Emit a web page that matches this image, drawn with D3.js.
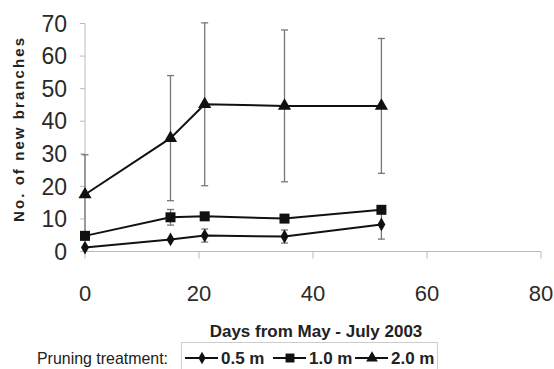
<!DOCTYPE html>
<html>
<head>
<meta charset="utf-8">
<script src="https://cdn.jsdelivr.net/npm/d3@7"></script>
<style>
  body { margin: 0; background: #fff; }
  text { font-family: "Liberation Sans", Arial, sans-serif; fill: #222; }
</style>
</head>
<body>
<script>
// days from May - July 2003
const days = [0, 15, 21, 35, 52]

// mean no. of new branches per pruning treatment
const mean05 = [1.2, 3.7, 4.9, 4.6, 8.3]
const mean10 = [4.8, 10.5, 10.8, 10.1, 12.8]
const mean20 = [17.5, 34.8, 45.2, 44.7, 44.7]

// standard deviations (error bar half-lengths)
const err05 = [0, 0, 2.0, 2.0, 4.5]
const err10 = [0, 2.4, 0, 0, 0]
const err20 = [12.2, 19.2, 25, 23.3, 20.7]

const yTicks = [0, 10, 20, 30, 40, 50, 60, 70]
const xTicks = [0, 20, 40, 60, 80]
const seriesNames = ['0.5 m', '1.0 m', '2.0 m']

const series = [
  { name: seriesNames[0], mean: mean05, err: err05, symbol: d3.symbolDiamond, size: 55 },
  { name: seriesNames[1], mean: mean10, err: err10, symbol: d3.symbolSquare, size: 100 },
  { name: seriesNames[2], mean: mean20, err: err20, symbol: d3.symbolTriangle, size: 75 },
]

const width = 554, height = 369

const svg = d3.select('body').append('svg')
  .attr('width', width)
  .attr('height', height)

const x = d3.scaleLinear().domain([0, 80]).range([85, 541])
const y = d3.scaleLinear().domain([0, 70]).range([251.5, 23.5])

// axes lines (light grey, like the original)
svg.append('line')
  .attr('x1', x(0)).attr('x2', x(80))
  .attr('y1', y(0)).attr('y2', y(0))
  .attr('stroke', '#bbb')
svg.append('line')
  .attr('x1', x(0)).attr('x2', x(0))
  .attr('y1', y(0)).attr('y2', y(70))
  .attr('stroke', '#bbb')

// y ticks
svg.append('g').selectAll('line')
  .data(yTicks)
  .enter().append('line')
  .attr('x1', x(0) - 5).attr('x2', x(0))
  .attr('y1', d => y(d)).attr('y2', d => y(d))
  .attr('stroke', '#bbb')
svg.append('g').selectAll('text')
  .data(yTicks)
  .enter().append('text')
  .attr('x', 67)
  .attr('y', d => y(d))
  .attr('dy', '0.36em')
  .attr('text-anchor', 'end')
  .style('font-size', '23px')
  .style('fill', '#2a2a2a')
  .text(d => d)

// x ticks
svg.append('g').selectAll('line')
  .data(xTicks)
  .enter().append('line')
  .attr('x1', d => x(d)).attr('x2', d => x(d))
  .attr('y1', y(0)).attr('y2', y(0) + 7)
  .attr('stroke', '#bbb')
svg.append('g').selectAll('text')
  .data(xTicks)
  .enter().append('text')
  .attr('x', d => x(d))
  .attr('y', 293)
  .attr('dy', '0.36em')
  .attr('text-anchor', 'middle')
  .style('font-size', '22px')
  .style('fill', '#2a2a2a')
  .text(d => d)

// axis titles
svg.append('text')
  .attr('transform', 'translate(24,130) rotate(-90)')
  .attr('text-anchor', 'middle')
  .style('font-size', '15px')
  .style('font-weight', 'bold')
  .attr('textLength', 184)
  .text('No. of new branches')

svg.append('text')
  .attr('x', 316)
  .attr('y', 337)
  .attr('text-anchor', 'middle')
  .style('font-size', '17px')
  .style('font-weight', 'bold')
  .text('Days from May - July 2003')

// error bars
for (const s of series) {
  const g = svg.append('g').attr('stroke', '#777').attr('stroke-width', 1.3)
  const bars = days.map((d, i) => ({ x: d, m: s.mean[i], e: s.err[i] })).filter(d => d.e > 0)
  g.selectAll('line.v').data(bars).enter().append('line')
    .attr('x1', d => x(d.x)).attr('x2', d => x(d.x))
    .attr('y1', d => y(d.m - d.e)).attr('y2', d => y(d.m + d.e))
  g.selectAll('line.t').data(bars).enter().append('line')
    .attr('x1', d => x(d.x) - 3.5).attr('x2', d => x(d.x) + 3.5)
    .attr('y1', d => y(d.m + d.e)).attr('y2', d => y(d.m + d.e))
  g.selectAll('line.b').data(bars).enter().append('line')
    .attr('x1', d => x(d.x) - 3.5).attr('x2', d => x(d.x) + 3.5)
    .attr('y1', d => y(d.m - d.e)).attr('y2', d => y(d.m - d.e))
}

// lines + markers
const line = d3.line().x(d => x(d[0])).y(d => y(d[1]))
for (const s of series) {
  const pts = days.map((d, i) => [d, s.mean[i]])
  svg.append('path')
    .attr('d', line(pts))
    .attr('fill', 'none')
    .attr('stroke', '#111')
    .attr('stroke-width', 2)
  svg.append('g').selectAll('path')
    .data(pts)
    .enter().append('path')
    .attr('transform', d => `translate(${x(d[0])},${y(d[1])})`)
    .attr('d', d3.symbol().type(s.symbol).size(s.size))
    .attr('fill', '#111')
}

// legend
svg.append('text')
  .attr('x', 37)
  .attr('y', 358)
  .attr('dy', '0.36em')
  .style('font-size', '17px')
  .attr('textLength', 131)
  .attr('lengthAdjust', 'spacingAndGlyphs')
  .text('Pruning treatment:')

svg.append('rect')
  .attr('x', 181.5).attr('y', 342.5)
  .attr('width', 256).attr('height', 32)
  .attr('fill', 'none')
  .attr('stroke', '#ccc')

const legendX = [185, 273, 355]
const legend = svg.append('g').selectAll('g')
  .data(series)
  .enter().append('g')
  .attr('transform', (d, i) => `translate(${legendX[i]},358)`)
legend.append('line')
  .attr('x1', 0).attr('x2', 33)
  .attr('stroke', '#111').attr('stroke-width', 2)
legend.append('path')
  .attr('transform', 'translate(17,0)')
  .attr('d', d => d3.symbol().type(d.symbol).size(d.size * 0.8)())
  .attr('fill', '#111')
legend.append('text')
  .attr('x', 36)
  .attr('dy', '0.36em')
  .style('font-size', '17px')
  .style('font-weight', 'bold')
  .text(d => d.name)
</script>
</body>
</html>
